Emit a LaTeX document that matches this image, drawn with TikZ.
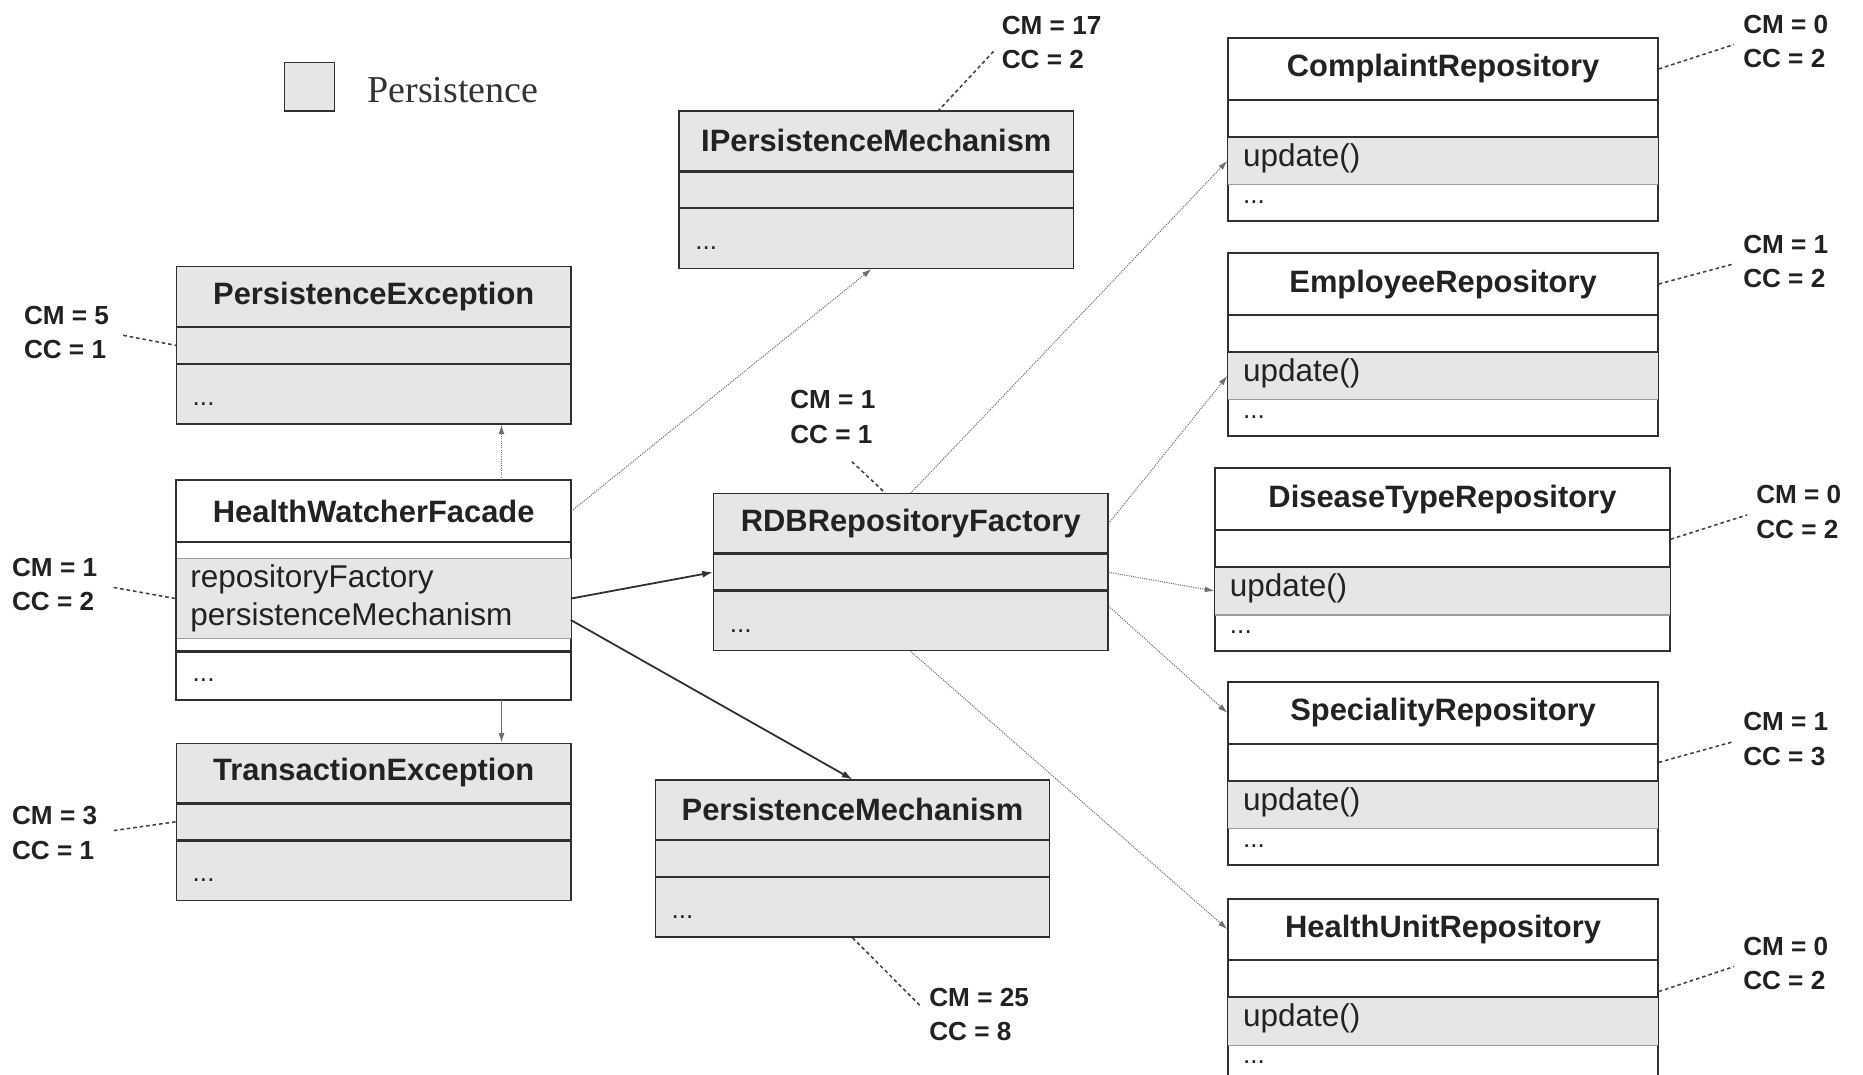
\documentclass[tikz,border=0pt]{standalone}
\usepackage{fontspec}
\setmainfont{Liberation Sans}
\newfontfamily\legendfont{Liberation Serif}
\usetikzlibrary{arrows.meta,calc}

\definecolor{boxline}{HTML}{303030}
\definecolor{boxfill}{HTML}{E6E6E6}
\definecolor{bandline}{HTML}{9C9C9C}
\definecolor{ink}{HTML}{222222}
\definecolor{linkgray}{HTML}{707070}

\tikzset{
  comp/.style={rectangle, draw=boxline, line width=1.1pt, anchor=north west, inner sep=0pt, text=ink},
  graycomp/.style={comp, fill=boxfill},
  whitecomp/.style={comp, fill=white},
  bandfill/.style={rectangle, fill=boxfill, draw=none, anchor=north west, inner sep=0pt},
  bandedge/.style={draw=bandline, line width=0.9pt},
  outline/.style={draw=boxline, line width=1.1pt},
  titletext/.style={font=\fontsize{26}{30}\selectfont\bfseries},
  membertext/.style={anchor=west, inner sep=0pt, text=ink, align=left, font=\fontsize{26.5}{32}\selectfont},
  dotstext/.style={anchor=west, inner sep=0pt, text=ink, font=\fontsize{22}{26}\selectfont},
  metric/.style={anchor=west, inner sep=0pt, align=left, text=ink, font=\fontsize{22}{29}\selectfont\bfseries},
  note/.style={draw=black!75, line width=1.3pt, dash pattern=on 3pt off 2.5pt},
  dep/.style={draw=linkgray, line width=0.9pt, densely dotted, -{Latex[length=8pt,width=5pt]}},
  uses/.style={draw=linkgray, line width=0.9pt, -{Latex[length=8pt,width=5pt]}},
  assoc/.style={draw=boxline, line width=1.5pt, -{Latex[length=9pt,width=6pt]}}
}

% class with three grey compartments
\newcommand\grayclass[5]{%
  \node[graycomp, titletext, minimum width=#4pt, minimum height=50pt] (#1-t) at (#2,#3) {#5};
  \node[graycomp, minimum width=#4pt, minimum height=30pt] (#1-a) at (#1-t.south west) {};
  \node[graycomp, minimum width=#4pt, minimum height=50pt] (#1-o) at (#1-a.south west) {};
  \node[dotstext] (#1-d) at ([xshift=14pt,yshift=-8pt]#1-o.west) {...};
}

% repository class: white, with the update() operation shaded
\newcommand\repoclass[5]{%
  \node[whitecomp, titletext, minimum width=#4pt, minimum height=51pt] (#1-t) at (#2,#3) {#5};
  \node[whitecomp, minimum width=#4pt, minimum height=30pt] (#1-a) at (#1-t.south west) {};
  \node[whitecomp, minimum width=#4pt, minimum height=70pt] (#1-o) at (#1-a.south west) {};
  \node[bandfill, minimum width=#4pt, minimum height=40pt] (#1-b) at (#1-o.north west) {};
  \draw[bandedge] (#1-b.south west) -- (#1-b.south east);
  \draw[outline] (#1-o.north west) -- (#1-o.north east);
  \draw[outline] (#1-t.north west) rectangle (#1-o.south east);
  \node[membertext] (#1-m) at ([xshift=13pt,yshift=2pt]#1-b.west) {update()};
  \node[dotstext] (#1-e) at ([xshift=13pt,yshift=16pt]#1-o.south west) {...};
}

\begin{document}
\begin{tikzpicture}[x=1pt,y=-1pt]
\useasboundingbox (0,0) rectangle (1568,904);
\clip (0,0) rectangle (1568,904);
\fill[white] (0,0) rectangle (1568,904);

% legend
\node[graycomp, minimum width=42pt, minimum height=41pt] (leg-box) at (239,52) {};
\node[anchor=west, inner sep=0pt, text=black!80, font=\legendfont\fontsize{32}{36}\selectfont] (leg-text) at (309,76) {Persistence};

% left column
\grayclass{pe}{148}{224}{332}{PersistenceException}

\node[whitecomp, titletext, minimum width=332pt, minimum height=51pt] (hwf-t) at (148,404) {HealthWatcherFacade};
\node[whitecomp, minimum width=332pt, minimum height=91pt] (hwf-a) at (hwf-t.south west) {};
\node[whitecomp, minimum width=332pt, minimum height=40pt] (hwf-o) at (hwf-a.south west) {};
\node[bandfill, minimum width=332pt, minimum height=67pt] (hwf-b) at ([yshift=-14pt]hwf-a.north west) {};
\draw[bandedge] (hwf-b.north west) -- (hwf-b.north east) (hwf-b.south west) -- (hwf-b.south east);
\draw[outline] (hwf-t.north west) rectangle (hwf-o.south east);
\node[membertext] (hwf-m) at ([xshift=12pt,yshift=0pt]hwf-b.west) {repositoryFactory\\persistenceMechanism};
\node[dotstext] (hwf-d) at ([xshift=14pt,yshift=-4pt]hwf-o.west) {...};

\grayclass{te}{148}{625}{332}{TransactionException}

% middle column
\grayclass{ipm}{571}{93}{332}{IPersistenceMechanism}
\grayclass{rdb}{600}{415}{332}{RDBRepositoryFactory}
\grayclass{pm}{551}{656}{332}{PersistenceMechanism}

% repositories
\repoclass{cr}{1033}{32}{362}{ComplaintRepository}
\repoclass{er}{1033}{213}{362}{EmployeeRepository}
\repoclass{dtr}{1022}{394}{383}{DiseaseTypeRepository}
\repoclass{sr}{1033}{574}{362}{SpecialityRepository}
\repoclass{hur}{1033}{756}{362}{HealthUnitRepository}

% metric annotations
\node[metric] (m-pe)  at (20,280)   {CM = 5\\CC = 1};
\node[metric] (m-hwf) at (10,492)   {CM = 1\\CC = 2};
\node[metric] (m-te)  at (10,701)   {CM = 3\\CC = 1};
\node[metric] (m-ipm) at (843,36)   {CM = 17\\CC = 2};
\node[metric] (m-rdb) at (665,351)  {CM = 1\\CC = 1};
\node[metric] (m-pm)  at (782,854)  {CM = 25\\CC = 8};
\node[metric] (m-cr)  at (1467,35)  {CM = 0\\CC = 2};
\node[metric] (m-er)  at (1467,220) {CM = 1\\CC = 2};
\node[metric] (m-dtr) at (1478,431) {CM = 0\\CC = 2};
\node[metric] (m-sr)  at (1467,622) {CM = 1\\CC = 3};
\node[metric] (m-hur) at (1467,811) {CM = 0\\CC = 2};

\draw[note, shorten <=12pt] (m-pe.east) -- (pe-a.west);
\draw[note, shorten <=14pt] (m-hwf.east) -- (hwf-b.west);
\draw[note, shorten <=14pt] (m-te.east) -- (te-a.west);
\draw[note, shorten <=10pt] (m-ipm.west) -- (ipm-t.26);
\draw[note, shorten <=22pt] (m-rdb.south) -- (rdb-t.130);
\draw[note, shorten >=10pt] (pm-o.south) -- (m-pm.west);
\draw[note, shorten >=8pt] (cr-t.east) -- (m-cr.west);
\draw[note, shorten >=8pt] (er-t.east) -- (m-er.west);
\draw[note, shorten >=8pt] ($(dtr-a.east)!0.5!(dtr-a.north east)$) -- (m-dtr.west);
\draw[note, shorten >=8pt] (sr-a.east) -- (m-sr.west);
\draw[note, shorten >=8pt] ($(hur-a.east)!0.7!(hur-a.south east)$) -- (m-hur.west);

% dependencies of the facade
\draw[dep]  ([xshift=-59pt]hwf-t.north east) -- ([xshift=-59pt]pe-o.south east);
\draw[uses] ([xshift=-59pt]hwf-o.south east) -- ([xshift=-59pt]te-t.north east);
\draw[dep]  (hwf-t.east) -- ([xshift=-4pt]ipm-o.south);
\draw[assoc] (hwf-b.east) -- (rdb-a.west);
\draw[assoc] ([yshift=-18pt]hwf-b.east) -- (pm-t.north);

% factory creates the repositories
\draw[dep] (rdb-t.north) -- (cr-b.west);
\draw[dep] (rdb-t.east) -- (er-b.west);
\draw[dep] (rdb-a.east) -- (dtr-b.west);
\draw[dep] ([yshift=-13pt]rdb-o.north east) -- (sr-t.west);
\draw[dep] (rdb-o.south) -- (hur-t.west);
\end{tikzpicture}
\end{document}
